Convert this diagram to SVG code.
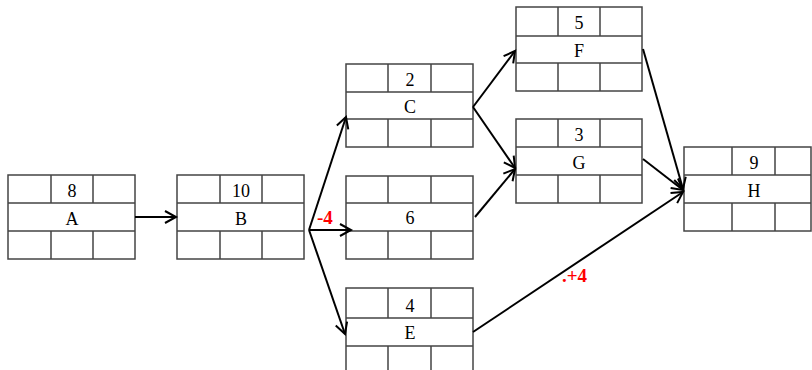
<svg xmlns="http://www.w3.org/2000/svg" width="812" height="370" viewBox="0 0 812 370">
<style>
.box{fill:#fff;stroke:#444;stroke-width:1.5}
.ln{stroke:#444;stroke-width:1.5}
.t{font-family:"Liberation Serif","Times New Roman",serif;font-size:18px;fill:#000;text-anchor:middle}
.c{stroke:#000;stroke-width:2;fill:none;marker-end:url(#ah)}
.r{font-family:"Liberation Serif","Times New Roman",serif;font-size:19px;font-weight:bold;fill:#f00}
</style>
<defs>
<marker id="ah" markerWidth="16" markerHeight="16" refX="13" refY="8" orient="auto" markerUnits="userSpaceOnUse">
<path d="M2,2 L13,8 L2,14" fill="none" stroke="#000" stroke-width="2"/>
</marker>
</defs>
<g id="A" transform="translate(8,175)">
<rect class="box" x="0" y="0" width="127" height="84"/>
<path class="ln" d="M0,28H127M0,56H127M43,0V28M85,0V28M43,56V84M85,56V84"/>
<text class="t" x="64" y="22">8</text>
<text class="t" x="64" y="50">A</text>
</g>
<g id="B" transform="translate(177,175)">
<rect class="box" x="0" y="0" width="127" height="84"/>
<path class="ln" d="M0,28H127M0,56H127M43,0V28M85,0V28M43,56V84M85,56V84"/>
<text class="t" x="64" y="22">10</text>
<text class="t" x="64" y="50">B</text>
</g>
<g id="C" transform="translate(346,64)">
<rect class="box" x="0" y="0" width="127" height="83"/>
<path class="ln" d="M0,28H127M0,55H127M42,0V28M85,0V28M42,55V83M85,55V83"/>
<text class="t" x="64" y="22">2</text>
<text class="t" x="64" y="49">C</text>
</g>
<g id="D" transform="translate(346,176)">
<rect class="box" x="0" y="0" width="127" height="83"/>
<path class="ln" d="M0,27H127M0,55H127M42,0V27M85,0V27M42,55V83M85,55V83"/>
<text class="t" x="64" y="48">6</text>
</g>
<g id="E" transform="translate(346,288)">
<rect class="box" x="0" y="0" width="127" height="88"/>
<path class="ln" d="M0,30H127M0,58H127M42,0V30M85,0V30M42,58V88M85,58V88"/>
<text class="t" x="64" y="24">4</text>
<text class="t" x="64" y="51">E</text>
</g>
<g id="F" transform="translate(516,7)">
<rect class="box" x="0" y="0" width="126" height="84"/>
<path class="ln" d="M0,29H126M0,56H126M42,0V29M84,0V29M42,56V84M84,56V84"/>
<text class="t" x="63" y="22">5</text>
<text class="t" x="63" y="50">F</text>
</g>
<g id="G" transform="translate(516,119)">
<rect class="box" x="0" y="0" width="126" height="84"/>
<path class="ln" d="M0,28H126M0,56H126M42,0V28M84,0V28M42,56V84M84,56V84"/>
<text class="t" x="63" y="22">3</text>
<text class="t" x="63" y="50">G</text>
</g>
<g id="H" transform="translate(684,147)">
<rect class="box" x="0" y="0" width="127" height="84"/>
<path class="ln" d="M0,28H127M0,56H127M48,0V28M91,0V28M48,56V84M91,56V84"/>
<text class="t" x="70" y="22">9</text>
<text class="t" x="70" y="50">H</text>
</g>
<g id="connectors">
<line class="c" x1="135" y1="217" x2="176" y2="217"/>
<line class="c" x1="309" y1="230" x2="346" y2="117"/>
<line class="c" x1="309" y1="230" x2="351" y2="230"/>
<line class="c" x1="309" y1="230" x2="345" y2="334"/>
<line class="c" x1="473" y1="107" x2="515" y2="51"/>
<line class="c" x1="473" y1="107" x2="515" y2="168"/>
<line class="c" x1="475" y1="217" x2="515" y2="169"/>
<line class="c" x1="643" y1="49" x2="683" y2="189"/>
<line class="c" x1="643" y1="159" x2="683" y2="190"/>
<line class="c" x1="473" y1="332" x2="683" y2="192"/>
<text class="r" x="317" y="224">-4</text>
<text class="r" x="562" y="282">.+4</text>
</g>
</svg>
